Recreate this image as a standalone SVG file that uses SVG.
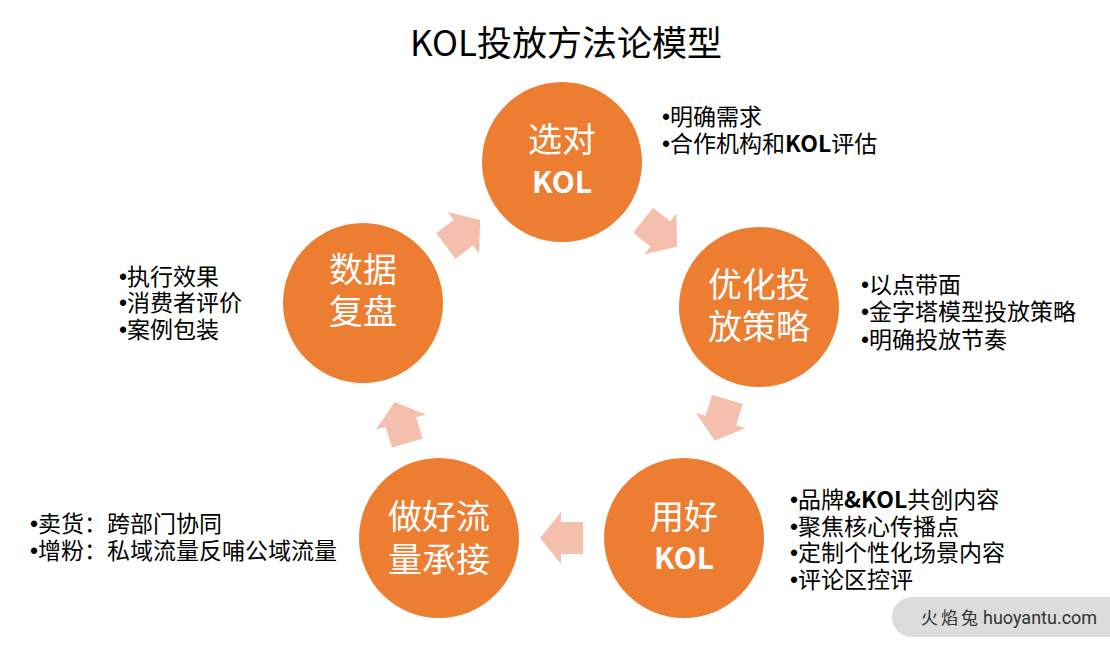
<svg xmlns="http://www.w3.org/2000/svg" width="1110" height="652" viewBox="0 0 1110 652">
<defs>
<style>
.t{font-family:"Noto Sans CJK SC","Microsoft YaHei",sans-serif;}
.title{font-size:35px;fill:#000;text-anchor:middle;}
.node circle{fill:#ED7D31;}
.nl{font-size:34px;fill:#fff;text-anchor:middle;}
.nk{font-size:30px;font-weight:bold;fill:#fff;text-anchor:middle;}
.b{font-size:23px;fill:#000;}
.bu{font-family:"Liberation Sans",sans-serif;}
.bold{font-weight:bold;}
.arr{fill:#F4BFAD;}
</style>
<path id="arw" d="M-21.5,-16 H0.5 V-26 L21.5,0 L0.5,26 V16 H-21.5 Z"/>
</defs>
<rect width="1110" height="652" fill="#fff"/>
<text class="t title" x="566" y="56">KOL投放方法论模型</text>

<g id="connectors">
<use href="#arw" class="arr" transform="translate(463,233) rotate(-37)"/>
<use href="#arw" class="arr" transform="translate(660,233.5) rotate(38)"/>
<use href="#arw" class="arr" transform="translate(721,420) rotate(107)"/>
<use href="#arw" class="arr" transform="translate(561.5,538) rotate(180)"/>
<use href="#arw" class="arr" transform="translate(401,422.5) rotate(-107)"/>
</g>

<g id="node-select" class="node">
<circle cx="562" cy="162" r="80"/>
<text class="t nl" x="562" y="152">选对</text>
<text class="t nk" x="562" y="193">KOL</text>
</g>
<g id="node-optimize" class="node">
<circle cx="759" cy="307" r="80"/>
<text class="t nl" x="759" y="297">优化投</text>
<text class="t nl" x="759" y="339">放策略</text>
</g>
<g id="node-use" class="node">
<circle cx="684" cy="538" r="80"/>
<text class="t nl" x="684" y="529">用好</text>
<text class="t nk" x="684" y="569">KOL</text>
</g>
<g id="node-traffic" class="node">
<circle cx="439" cy="538" r="80"/>
<text class="t nl" x="439" y="529">做好流</text>
<text class="t nl" x="439" y="572">量承接</text>
</g>
<g id="node-review" class="node">
<circle cx="363" cy="303" r="80"/>
<text class="t nl" x="363" y="282">数据</text>
<text class="t nl" x="363" y="324">复盘</text>
</g>

<g id="notes-select">
<text class="t b" x="662" y="125"><tspan class="bu">•</tspan>明确需求</text>
<text class="t b" x="662" y="152"><tspan class="bu">•</tspan>合作机构和<tspan class="bold">KOL</tspan>评估</text>
</g>
<g id="notes-optimize">
<text class="t b" x="861" y="293"><tspan class="bu">•</tspan>以点带面</text>
<text class="t b" x="861" y="320"><tspan class="bu">•</tspan>金字塔模型投放策略</text>
<text class="t b" x="861" y="348"><tspan class="bu">•</tspan>明确投放节奏</text>
</g>
<g id="notes-review">
<text class="t b" x="119" y="285"><tspan class="bu">•</tspan>执行效果</text>
<text class="t b" x="119" y="311"><tspan class="bu">•</tspan>消费者评价</text>
<text class="t b" x="119" y="338"><tspan class="bu">•</tspan>案例包装</text>
</g>
<g id="notes-use">
<text class="t b" x="790" y="508"><tspan class="bu">•</tspan>品牌<tspan class="bold">&amp;KOL</tspan>共创内容</text>
<text class="t b" x="790" y="535"><tspan class="bu">•</tspan>聚焦核心传播点</text>
<text class="t b" x="790" y="561"><tspan class="bu">•</tspan>定制个性化场景内容</text>
<text class="t b" x="790" y="588"><tspan class="bu">•</tspan>评论区控评</text>
</g>
<g id="notes-traffic">
<text class="t b" x="30" y="532"><tspan class="bu">•</tspan>卖货：跨部门协同</text>
<text class="t b" x="30" y="559"><tspan class="bu">•</tspan>增粉：私域流量反哺公域流量</text>
</g>

<g id="watermark">
<path d="M912,597 H1110 V637 H912 A20,20 0 0 1 912,597 Z" fill="#DCDCDC"/>
<text x="921" y="624" style="font-family:'Noto Sans CJK SC',sans-serif;font-size:17px;fill:#333;letter-spacing:3px;">火焰兔</text>
<text x="983" y="624" style="font-family:Roboto,'Liberation Sans',sans-serif;font-size:18px;fill:#333;">huoyantu.com</text>
</g>
</svg>
